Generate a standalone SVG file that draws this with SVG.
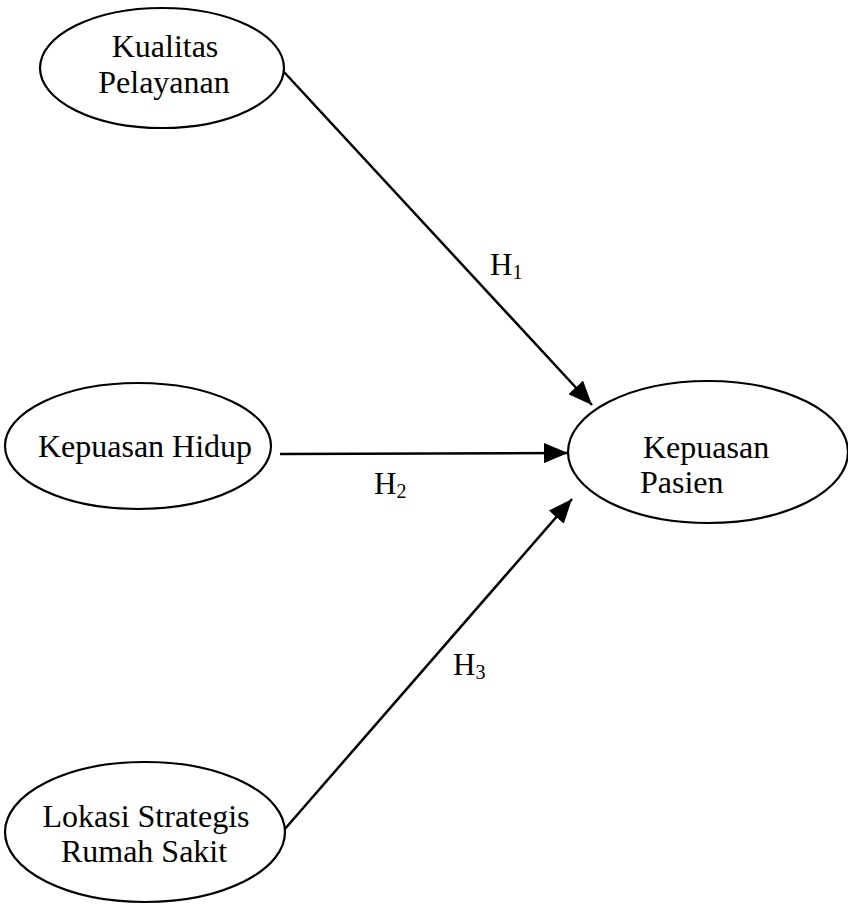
<svg xmlns="http://www.w3.org/2000/svg" width="848" height="904" viewBox="0 0 848 904">
<style>
.node{fill:#fff;stroke:#000;stroke-width:2.2}
.t{font-family:"Liberation Serif","Times New Roman",serif;font-size:32px;fill:#000}
.h{font-family:"Liberation Serif","Times New Roman",serif;font-size:31px;fill:#000}
.sub{font-size:20px}
.edge{stroke:#000;stroke-width:2.5;fill:none}
</style>
<defs>
<marker id="arr" markerUnits="userSpaceOnUse" markerWidth="26" markerHeight="20" refX="24" refY="10" orient="auto">
<path d="M0,0 L24,10 L0,20 Z" fill="#000"/>
</marker>
</defs>
<rect width="848" height="904" fill="#fff"/>
<g id="connectors">
<line class="edge" x1="284" y1="72" x2="592" y2="405" marker-end="url(#arr)"/>
<line class="edge" x1="280" y1="454" x2="568" y2="453" marker-end="url(#arr)"/>
<line class="edge" x1="284" y1="830" x2="572" y2="499" marker-end="url(#arr)"/>
</g>
<g id="label-h1"><text class="h" x="490" y="275">H<tspan class="sub" dy="4">1</tspan></text></g>
<g id="label-h2"><text class="h" x="374" y="494">H<tspan class="sub" dy="4">2</tspan></text></g>
<g id="label-h3"><text class="h" x="453" y="675">H<tspan class="sub" dy="4">3</tspan></text></g>
<g id="kualitas-pelayanan">
<ellipse class="node" cx="162" cy="68" rx="122" ry="60"/>
<text class="t" x="165" y="57" text-anchor="middle">Kualitas</text>
<text class="t" x="164" y="93" text-anchor="middle">Pelayanan</text>
</g>
<g id="kepuasan-hidup">
<ellipse class="node" cx="138" cy="446" rx="133" ry="63"/>
<text class="t" x="145" y="457" text-anchor="middle">Kepuasan Hidup</text>
</g>
<g id="lokasi-strategis">
<ellipse class="node" cx="145" cy="832" rx="140" ry="70"/>
<text class="t" x="146" y="827" text-anchor="middle">Lokasi Strategis</text>
<text class="t" x="144" y="862" text-anchor="middle">Rumah Sakit</text>
</g>
<g id="kepuasan-pasien">
<ellipse class="node" cx="708" cy="452" rx="140" ry="71"/>
<text class="t" x="643" y="458">Kepuasan</text>
<text class="t" x="640" y="493">Pasien</text>
</g>
</svg>
